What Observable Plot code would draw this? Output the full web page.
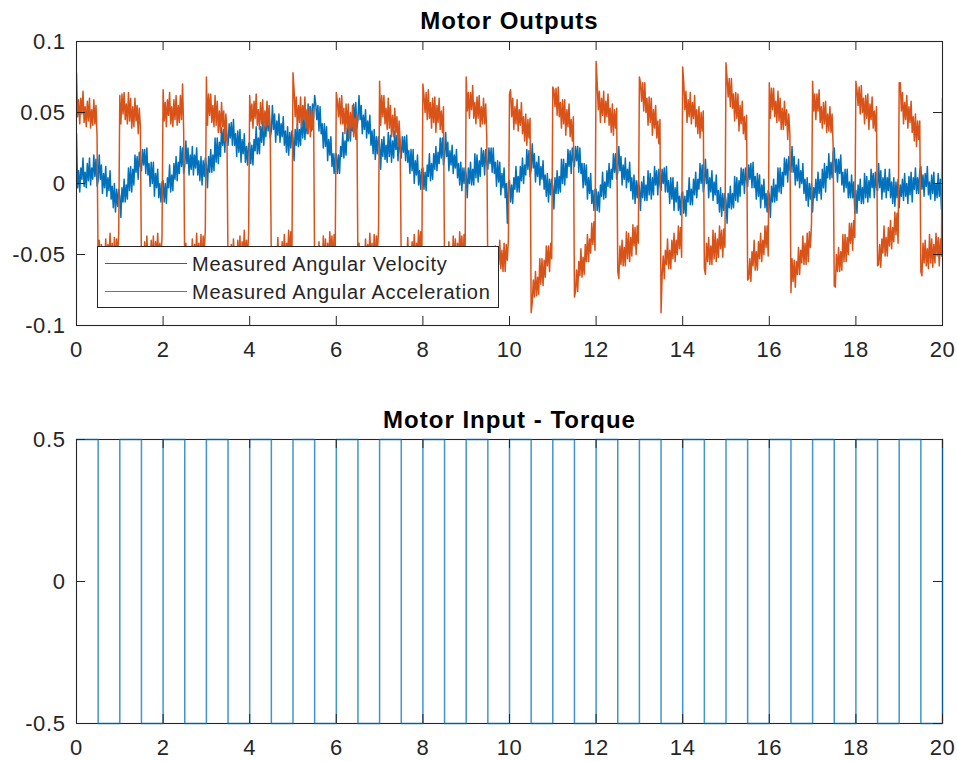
<!DOCTYPE html>
<html>
<head>
<meta charset="utf-8">
<script src="https://cdn.jsdelivr.net/npm/d3@7"></script>
<script src="https://cdn.jsdelivr.net/npm/@observablehq/plot@0.6"></script>
<style>
  body { margin: 0; background: #fff; font-family: "Liberation Sans", Arial, sans-serif; }
  #wrap { position: relative; width: 957px; height: 761px; overflow: hidden; }
  #top, #bottom { position: absolute; left: 0; }
  #top { top: 0; }
  #bottom { top: 380px; }
  #legend { position: absolute; left: 97px; top: 246px; width: 400px; height: 60px;
            background: #fff; border: 1px solid #262626; }
  .lrow { position: absolute; left: 0; height: 28px; width: 400px; }
  .lline { position: absolute; left: 7px; width: 82px; height: 1.3px; top: 13px; }
  .ltext { position: absolute; left: 94px; top: 0; font-size: 20px; line-height: 28px; color: #262626;
           white-space: nowrap; letter-spacing: 0.75px; }
</style>
</head>
<body>
<div id="wrap">
  <div id="top"></div>
  <div id="bottom"></div>
  <div id="legend"></div>
</div>
<script>
// ---- data ----
const sampleStep = 0.025;          // seconds between samples of the measured signals
const torqueStep = 0.5;            // seconds between torque switch points
const xTicks = [0, 2, 4, 6, 8, 10, 12, 14, 16, 18, 20];
const yTicksOutputs = [-0.1, -0.05, 0, 0.05, 0.1];
const yTicksTorque = [-0.5, 0, 0.5];
const seriesNames = ["Measured Angular Velocity", "Measured Angular Acceleration"];
const titles = ["Motor Outputs", "Motor Input - Torque"];

// measured angular velocity, one row per half second (20 samples each)
const angularVelocity = [
  .035,-.003,.009,-.006,.011,.003,.018,-.002,.008,-.003,.014,.002,.018,-.001,.011,.003,.02,.005,.017,-.002,
  .002,.02,.003,.013,-.007,.007,-.003,.012,-.009,.004,-.005,.009,-.011,-.002,-.017,0,-.02,-.004,-.016,-.004,
  -.009,-.024,-.003,-.013,.003,-.013,-.001,-.011,.011,-.005,.012,-.006,.01,-.001,.02,.008,.019,.003,.022,.012,
  .009,.024,.013,.024,.007,.025,.006,.014,-.002,.015,0,.015,-.009,.007,-.003,.01,-.01,0,-.013,.001,
  .002,-.013,0,-.014,.004,-.003,.013,-.006,.006,-.005,.014,.003,.019,.002,.015,.007,.026,.012,.025,.007,
  .012,.03,.014,.025,.006,.02,.01,.026,.006,.02,.011,.025,.006,.016,.002,.019,-.001,.016,.005,.018,
  .013,-.003,.019,.008,.024,.008,.02,.009,.032,.015,.032,.014,.029,.019,.039,.027,.038,.022,.04,.031,
  .027,.042,.032,.043,.027,.045,.027,.035,.019,.037,.022,.038,.015,.031,.021,.035,.015,.026,.013,.028,
  .029,.014,.027,.013,.031,.023,.04,.021,.032,.021,.04,.029,.045,.027,.041,.033,.051,.037,.051,.032,
  .037,.055,.038,.049,.029,.044,.034,.049,.029,.042,.033,.047,.027,.037,.022,.04,.02,.036,.025,.037,
  .032,.016,.038,.027,.042,.026,.038,.027,.049,.032,.049,.031,.046,.035,.056,.043,.054,.037,.056,.046,
  .062,.056,.045,.055,.037,.054,.035,.042,.025,.042,.026,.04,.016,.031,.02,.033,.012,.021,.007,.021,
  .021,.007,.02,.007,.026,.019,.036,.018,.03,.02,.039,.03,.047,.03,.044,.037,.056,.043,.057,.039,
  .045,.062,.045,.055,.035,.048,.038,.052,.032,.044,.035,.048,.027,.037,.021,.038,.017,.033,.021,.033,
  .027,.01,.031,.019,.033,.017,.027,.015,.036,.019,.034,.015,.03,.018,.037,.024,.034,.016,.033,.023,
  .018,.033,.022,.033,.016,.034,.015,.023,.007,.024,.009,.024,0,.016,.006,.02,-.001,.009,-.004,.01,
  .011,-.004,.008,-.005,.013,.005,.021,.002,.014,.003,.021,.01,.026,.009,.022,.014,.032,.018,.032,.013,
  .018,.036,.019,.029,.009,.023,.013,.027,.007,.02,.011,.024,.004,.014,-.001,.015,-.005,.011,0,.011,
  .006,-.01,.011,0,.015,-.001,.01,-.001,.021,.004,.02,.001,.016,.005,.025,.012,.023,.006,.024,.014,
  .01,.025,.014,.025,.008,.025,.007,.015,-.002,.016,.001,.015,-.008,.007,-.003,.011,-.01,0,-.028,.001,
  .002,-.013,-.001,-.014,.004,-.004,.012,-.006,.005,-.006,.012,.002,.018,0,.013,.006,.024,.01,.023,.005,
  .01,.028,.011,.021,.001,.015,.005,.019,-.001,.012,.003,.016,-.004,.006,-.009,.007,-.013,.003,-.008,.003,
  -.002,-.018,.004,-.007,.009,-.007,.005,-.006,.017,0,.017,-.001,.014,.004,.024,.012,.023,.007,.025,.016,
  .012,.026,.016,.026,.008,.025,.007,.014,-.003,.014,-.001,.013,-.011,.004,-.007,.007,-.014,-.005,-.019,-.004,
  -.004,-.019,-.006,-.02,-.001,-.009,.008,-.011,.001,-.01,.009,-.002,.014,-.003,.01,.003,.021,.008,.021,.003,
  .008,.026,.009,.019,-.001,.013,.003,.018,-.003,.01,.001,.015,-.005,.004,-.011,.006,-.014,.002,-.01,.002,
  -.003,-.019,.001,-.01,.005,-.012,-.001,-.012,.009,-.008,.007,-.011,.004,-.008,.012,-.001,.009,-.008,.01,-.001,
  -.005,.01,0,.011,-.006,.012,-.006,.002,-.014,.004,-.011,.004,-.019,-.003,-.013,.001,-.019,-.009,-.022,-.007,
  -.006,-.021,-.009,-.023,-.005,-.013,.004,-.015,-.004,-.015,.003,-.008,.008,-.01,.003,-.004,.014,0,.013,-.006,
  -.001,.017,0,.01,-.01,.004,-.006,.009,-.012,.001,-.008,.006,-.014,-.005,-.02,-.003,-.023,-.007,-.019,-.007,
  -.012,-.028,-.007,-.017,-.002,-.018,-.007,-.017,.005,-.012,.004,-.013,.002,-.009,.011,-.001,.01,-.007,.011,.002,
  -.002,.013,.003,.014,-.003,.015,-.003,.005,-.011,.007,-.009,.006,-.017,-.001,-.011,.003,-.017,-.007,-.02,-.005,
  -.008,-.024,-.002,-.013,.003,-.013,-.001,-.012,.011,-.006,.011,-.007,.008,-.002,.018,.006,.017,.001,.019,.01,
  .008,.026,.008,.019,-.001,.013,.002,.017,-.003,.009,0,.014,-.007,.003,-.012,.004,-.016,0,-.011,0,
  -.02,-.003,-.01,.003,-.012,.008,-.007,.003,-.011,.01,-.003,.014,-.006,.012,.004,.021,.003,.015,.004,.022,
  .025,.008,.017,.001,.017,.007,.02,-.001,.008,-.006,.01,-.003,.01,-.01,.001,-.01,.006,-.01,.001,-.021,
  -.005,-.021,-.001,-.012,.003,-.014,-.003,-.014,.007,-.01,.005,-.013,.002,-.01,.01,-.003,.007,-.01,.008,-.003,
  -.005,.014,-.003,.009,-.011,.004,-.006,.01,-.01,.004,-.005,.01,-.01,.001,-.014,.004,-.016,.001,-.01,.003,
  -.017,-.001,-.009,.003,-.012,.007,-.009,0,-.014,.005,-.008,.008,-.013,.004,-.004,.011,-.007,.004,-.007,.009,
  .012,-.004,.006,-.009,.007,-.002,.012,-.008,.001,-.011,.006,-.007,.008,-.012,0,-.01,.007,-.009,.003,-.018,
  -.01
];

// measured angular acceleration, one row per half second (20 samples each)
const angularAcceleration = [
  .078,.047,.059,.042,.06,.049,.065,.043,.054,.04,.058,.044,.06,.039,.052,.041,.059,.042,.055,.033,
  -.062,-.04,-.057,-.043,-.064,-.046,-.057,-.039,-.059,-.043,-.053,-.035,-.056,-.042,-.058,-.038,-.058,-.039,-.051,-.035,
  .062,.042,.063,.049,.064,.045,.056,.042,.064,.044,.06,.039,.054,.04,.06,.044,.055,.035,.053,.04,
  -.06,-.045,-.055,-.041,-.059,-.037,-.056,-.045,-.061,-.04,-.056,-.037,-.061,-.041,-.052,-.035,-.055,-.042,-.056,-.037,
  .066,.044,.057,.04,.059,.048,.064,.042,.054,.04,.059,.045,.062,.041,.055,.043,.062,.045,.07,.037,
  -.063,-.042,-.06,-.045,-.065,-.048,-.058,-.039,-.06,-.043,-.053,-.035,-.055,-.042,-.057,-.036,-.057,-.037,-.048,-.033,
  .075,.041,.063,.048,.063,.043,.055,.04,.062,.041,.058,.036,.051,.036,.057,.04,.051,.03,.049,.035,
  -.06,-.047,-.058,-.043,-.06,-.039,-.057,-.045,-.062,-.04,-.056,-.037,-.06,-.041,-.051,-.033,-.054,-.04,-.053,-.035,
  .062,.044,.056,.039,.058,.046,.063,.041,.052,.038,.057,.042,.059,.037,.051,.04,.058,.041,.055,.032,
  -.058,-.062,-.049,-.065,-.045,-.056,-.038,-.059,-.047,-.06,-.041,-.054,-.036,-.057,-.042,-.052,-.033,-.049,-.034,-.056,
  .078,.066,.047,.061,.039,.055,.043,.061,.04,.055,.045,.061,.039,.052,.035,.054,.033,.051,.038,.053,
  -.062,-.067,-.045,-.058,-.041,-.06,-.047,-.06,-.037,-.056,-.039,-.059,-.042,-.056,-.034,-.049,-.037,-.056,-.036,-.049,
  .064,.058,.047,.06,.042,.062,.042,.053,.035,.056,.039,.056,.032,.05,.039,.055,.033,.046,.031,.049,
  -.06,-.042,-.06,-.045,-.065,-.048,-.058,-.039,-.06,-.043,-.053,-.035,-.055,-.042,-.057,-.036,-.057,-.037,-.048,-.033,
  .072,.041,.062,.047,.062,.042,.053,.038,.06,.039,.055,.033,.048,.033,.053,.036,.047,.026,.044,.03,
  -.06,-.062,-.049,-.065,-.045,-.056,-.038,-.059,-.047,-.06,-.041,-.054,-.036,-.057,-.042,-.052,-.033,-.049,-.034,-.056,
  .07,.062,.05,.064,.045,.066,.046,.057,.039,.06,.043,.061,.036,.055,.043,.06,.038,.051,.036,.054,
  -.061,-.067,-.045,-.058,-.041,-.06,-.047,-.06,-.037,-.056,-.039,-.059,-.042,-.056,-.034,-.049,-.037,-.056,-.036,-.049,
  .075,.051,.064,.046,.064,.052,.069,.046,.057,.042,.061,.046,.062,.04,.054,.042,.06,.042,.056,.033,
  -.066,-.046,-.063,-.049,-.069,-.052,-.062,-.044,-.064,-.048,-.057,-.04,-.06,-.047,-.062,-.042,-.062,-.043,-.054,-.039,
  .063,.066,.047,.06,.038,.054,.042,.059,.037,.052,.041,.057,.035,.047,.03,.049,.027,.045,.032,.046,
  -.091,-.084,-.068,-.08,-.062,-.079,-.066,-.078,-.053,-.071,-.053,-.072,-.054,-.066,-.044,-.058,-.044,-.062,-.042,-.053,
  .068,.066,.054,.067,.048,.068,.047,.057,.039,.059,.042,.059,.034,.052,.04,.056,.033,.045,.03,.047,
  -.08,-.076,-.061,-.076,-.055,-.065,-.046,-.066,-.052,-.064,-.043,-.055,-.036,-.055,-.039,-.049,-.028,-.043,-.027,-.047,
  .086,.071,.052,.065,.043,.06,.048,.065,.043,.058,.047,.063,.041,.053,.036,.056,.034,.052,.039,.053,
  -.062,-.067,-.044,-.057,-.04,-.058,-.045,-.058,-.034,-.053,-.035,-.055,-.038,-.051,-.029,-.044,-.031,-.05,-.03,-.042,
  .075,.071,.058,.071,.051,.071,.05,.06,.041,.061,.043,.06,.034,.052,.039,.055,.032,.044,.028,.045,
  -.091,-.065,-.051,-.067,-.047,-.057,-.039,-.06,-.047,-.06,-.04,-.053,-.035,-.055,-.04,-.05,-.03,-.046,-.031,-.052,
  .082,.071,.052,.065,.043,.059,.047,.064,.042,.057,.046,.062,.04,.052,.035,.054,.032,.05,.037,.051,
  -.06,-.064,-.042,-.055,-.038,-.057,-.044,-.057,-.033,-.053,-.035,-.055,-.039,-.052,-.03,-.046,-.033,-.052,-.032,-.045,
  .085,.074,.061,.074,.054,.074,.053,.063,.044,.064,.046,.063,.037,.055,.042,.058,.035,.047,.031,.048,
  -.068,-.067,-.053,-.069,-.048,-.058,-.04,-.061,-.048,-.061,-.041,-.053,-.035,-.055,-.04,-.05,-.03,-.045,-.03,-.051,
  .071,.046,.067,.052,.067,.047,.058,.043,.065,.044,.06,.038,.053,.038,.058,.041,.052,.031,.049,.035,
  -.077,-.053,-.069,-.054,-.073,-.055,-.064,-.045,-.064,-.047,-.056,-.037,-.057,-.042,-.057,-.035,-.055,-.034,-.045,-.028,
  .072,.051,.063,.045,.063,.051,.066,.043,.054,.039,.057,.042,.058,.036,.049,.037,.054,.036,.049,.026,
  -.072,-.073,-.05,-.062,-.045,-.062,-.048,-.061,-.036,-.055,-.036,-.055,-.038,-.05,-.028,-.042,-.028,-.047,-.026,-.038,
  .072,.066,.055,.068,.049,.069,.05,.06,.042,.062,.046,.063,.038,.056,.045,.061,.039,.051,.037,.054,
  -.058,-.057,-.043,-.059,-.039,-.049,-.03,-.051,-.038,-.051,-.031,-.044,-.026,-.046,-.031,-.041,-.02,-.036,-.021,-.042,
  .071,.071,.051,.064,.042,.057,.045,.062,.039,.054,.043,.058,.036,.047,.03,.049,.026,.044,.031,.044,
  -.062,-.065,-.042,-.056,-.04,-.058,-.046,-.06,-.036,-.056,-.039,-.059,-.043,-.056,-.035,-.051,-.038,-.058,-.039,-.051,
  .06
];

// torque input level from each switch point (every 0.5 s) to the next
const torqueLevels = [
  .5,-.5,.5,-.5,.5,-.5,.5,-.5,.5,-.5,
  .5,-.5,.5,-.5,.5,-.5,.5,-.5,.5,-.5,
  .5,-.5,.5,-.5,.5,-.5,.5,-.5,.5,-.5,
  .5,-.5,.5,-.5,.5,-.5,.5,-.5,.5,-.5,
  .5
];

// ---- colours / layout ----
const blue = "#0072BD", orange = "#D95319", axisColor = "#262626";
const W = 957;
const fontFamily = "'Liberation Sans', Arial, Helvetica, sans-serif";
const tickLen = 9;

const velRows = angularVelocity.map((v, i) => ({t: i * sampleStep, v}));
const accRows = angularAcceleration.map((a, i) => ({t: i * sampleStep, a}));
const torqueRows = torqueLevels.map((q, i) => ({t: i * torqueStep, q}));

const fmt = d => String(d);

function innerTicks(xt, yt, frameW, frameH) {
  return [
    Plot.ruleX(xt, {x: d => d, insetTop: frameH - tickLen, stroke: axisColor}),
    Plot.ruleX(xt, {x: d => d, insetBottom: frameH - tickLen, stroke: axisColor}),
    Plot.ruleY(yt, {y: d => d, insetRight: frameW - tickLen, stroke: axisColor}),
    Plot.ruleY(yt, {y: d => d, insetLeft: frameW - tickLen, stroke: axisColor})
  ];
}

function panel({height, marginTop, marginBottom, yDomain, yTicks, title, titleDy, marks, frameFirst}) {
  const marginLeft = 76, marginRight = 15;
  const frameW = W - marginLeft - marginRight;
  const frameH = height - marginTop - marginBottom;
  const frame = Plot.frame({stroke: axisColor, strokeWidth: 1.1});
  return Plot.plot({
    width: W, height, marginTop, marginBottom, marginLeft, marginRight,
    style: {fontFamily, fontSize: "22px", color: axisColor, background: "transparent",
            overflow: "visible", letterSpacing: "0.6px"},
    x: {domain: [0, 20], ticks: xTicks, tickFormat: fmt, tickSize: 0, tickPadding: 16, label: null},
    y: {domain: yDomain, ticks: yTicks, tickFormat: fmt, tickSize: 0, tickPadding: 11, label: null},
    marks: [
      ...(frameFirst ? [frame] : []),
      ...marks,
      ...innerTicks(xTicks, yTicks, frameW, frameH),
      ...(frameFirst ? [] : [frame]),
      Plot.text([title], {text: d => d, frameAnchor: "top", dy: titleDy, fontWeight: "bold",
        fontSize: 24, fill: "#000", lineAnchor: "middle"})
    ]
  });
}

const topChart = panel({
  height: 380, marginTop: 41, marginBottom: 55,
  yDomain: [-0.1, 0.1], yTicks: yTicksOutputs,
  title: titles[0], titleDy: -20,
  marks: [
    Plot.line(velRows, {x: "t", y: "v", stroke: blue, strokeWidth: 1.5, clip: true}),
    Plot.line(accRows, {x: "t", y: "a", stroke: orange, strokeWidth: 1.5, clip: true})
  ]
});
document.getElementById("top").appendChild(topChart);

const bottomChart = panel({
  height: 381, marginTop: 59, marginBottom: 38,
  yDomain: [-0.5, 0.5], yTicks: yTicksTorque,
  title: titles[1], titleDy: -19, frameFirst: true,
  marks: [
    Plot.line(torqueRows, {x: "t", y: "q", curve: "step-after", stroke: blue, strokeWidth: 1.5, strokeOpacity: 0.75})
  ]
});
document.getElementById("bottom").appendChild(bottomChart);

// title letter spacing to mimic the reference rendering
d3.selectAll("#wrap svg text").filter(function() { return titles.includes(this.textContent); })
  .style("letter-spacing", "1px");

// legend (drawn over the data, like the reference)
const legend = document.getElementById("legend");
[blue, orange].forEach((c, i) => {
  const row = document.createElement("div");
  row.className = "lrow";
  row.style.top = (3 + i * 28) + "px";
  const line = document.createElement("div");
  line.className = "lline";
  line.style.background = c;
  const txt = document.createElement("div");
  txt.className = "ltext";
  txt.textContent = seriesNames[i];
  row.appendChild(line);
  row.appendChild(txt);
  legend.appendChild(row);
});
</script>
</body>
</html>
